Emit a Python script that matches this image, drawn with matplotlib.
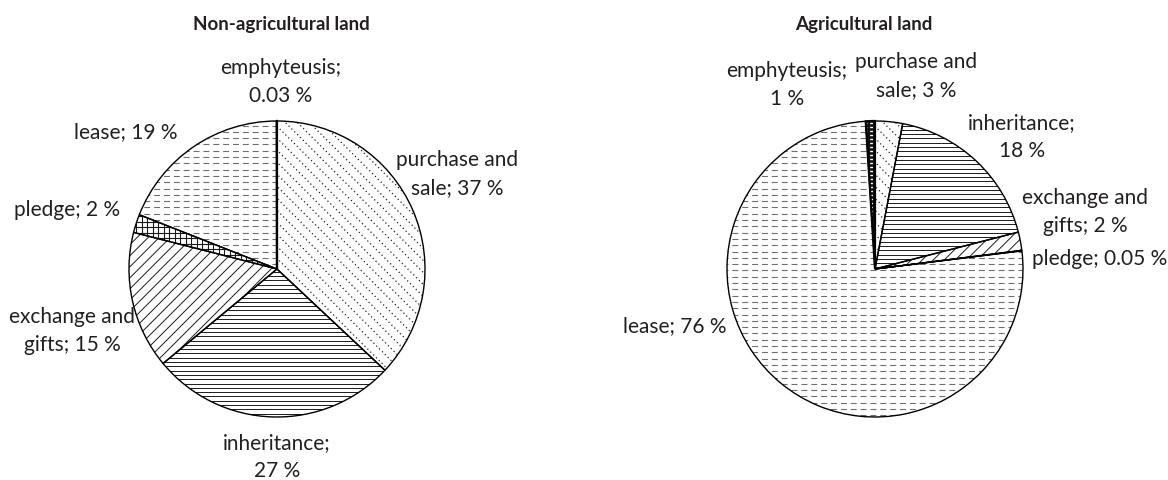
import numpy as np
import matplotlib
matplotlib.use('Agg')
import matplotlib.pyplot as plt
from matplotlib.collections import LineCollection

plt.rcParams['font.family'] = ['Lato', 'DejaVu Sans']
plt.rcParams['lines.scale_dashes'] = False

# data (%), order clockwise from 12 o'clock
categories = ['purchase and sale', 'inheritance', 'exchange and gifts', 'pledge', 'lease', 'emphyteusis']
non_agri = [37, 27, 15, 2, 19, 0.03]
agri = [3, 18, 2, 0.05, 76, 1]
labels_non = ['purchase and\nsale; {} %', 'inheritance;\n{} %', 'exchange and\ngifts; {} %',
              'pledge; {} %', 'lease; {} %', 'emphyteusis;\n{} %']
labels_agri = ['purchase and\nsale; {} %', 'inheritance;\n{} %', 'exchange and\ngifts; {} %',
               'pledge; {} %', 'lease; {} %', 'emphyteusis;\n{} %']
titles = ['Non-agricultural land', 'Agricultural land']

# layout (pixels, measured from the top-left of the figure)
W, H = 1168, 481
R = 148.0           # pie radius in px
CY = 270            # pie centre y
centres_x = [277, 875]
title_xy = [(281, 25), (864, 25)]
lbl_xy_non = [(457, 174), (277, 457), (72, 331), (67, 210), (126, 132), (281, 82)]
lbl_xy_agri = [(916, 76), (1022, 137), (1085, 212), (1100, 259), (675, 326), (787, 85)]

txt_col = '#231f20'
face_cols = ['white', 'white', 'white', 'white', 'white', '#111111']
edge_lw = [1.0, 1.0, 1.0, 1.0, 1.0, 1.6]
# (angle, spacing px, colour, linewidth, linestyle) per category
hatch_spec = [
    [(-45, 8.5, '#222222', 0.9, (0, (0.9, 2.0)))],
    [(0, 4.3, '#1a1a1a', 0.7, '-')],
    [(45, 7.8, '#1a1a1a', 0.7, '-')],
    [(0, 5.5, '#1a1a1a', 0.8, '-'), (90, 5.5, '#1a1a1a', 0.8, '-')],
    [(0, 6.3, '#6e6e6e', 0.8, (0, (4.3, 2.8)))],
    [(0, 4.0, 'white', 1.0, (0, (2.0, 2.0)))],
]


def add_hatch(ax, wedge, angle, spacing, color, lw, ls):
    sp = spacing / R
    th = np.deg2rad(angle)
    d = np.array([np.cos(th), np.sin(th)])
    n = np.array([-np.sin(th), np.cos(th)])
    segs = [[o * n - 1.5 * d, o * n + 1.5 * d] for o in np.arange(-1.5, 1.5 + sp, sp)]
    lc = LineCollection(segs, colors=color, linewidths=lw, linestyles=ls, zorder=2)
    ax.add_collection(lc, autolim=False)
    lc.set_clip_path(wedge)


fig = plt.figure(figsize=(W / 100, H / 100), dpi=100)

for k, (vals, labs, lbl_xy) in enumerate([(non_agri, labels_non, lbl_xy_non),
                                          (agri, labels_agri, lbl_xy_agri)]):
    x0 = k * W / 2
    ax = fig.add_axes([k * 0.5, 0, 0.5, 1])
    cx = centres_x[k] - x0
    wedges, _ = ax.pie(vals, startangle=90, counterclock=False, colors=face_cols,
                       wedgeprops=dict(edgecolor='none', linewidth=0))
    for w, spec in zip(wedges, hatch_spec):
        for s in spec:
            add_hatch(ax, w, *s)
    # outlines on top
    outl, _ = ax.pie(vals, startangle=90, counterclock=False,
                     wedgeprops=dict(fill=False, edgecolor='black', linewidth=1.0))
    for w, lw in zip(outl, edge_lw):
        w.set_zorder(3)
        w.set_linewidth(lw)

    ax.set_aspect('auto')
    ax.set_xlim(-cx / R, (W / 2 - cx) / R)
    ax.set_ylim(-(H - CY) / R, CY / R)
    ax.set_axis_off()

    def to_data(px, py):
        return (px - x0 - cx) / R, (CY - py) / R

    tx, ty = to_data(*title_xy[k])
    ax.text(tx, ty, titles[k], ha='center', va='center', fontsize=13.5,
            fontweight='bold', color=txt_col)
    for lab, v, (px, py) in zip(labs, vals, lbl_xy):
        lx, ly = to_data(px, py)
        ax.text(lx, ly, lab.format(f'{v:g}'), ha='center', va='center',
                fontsize=15, color=txt_col, linespacing=1.5)

fig.savefig('out.png', dpi=100)
